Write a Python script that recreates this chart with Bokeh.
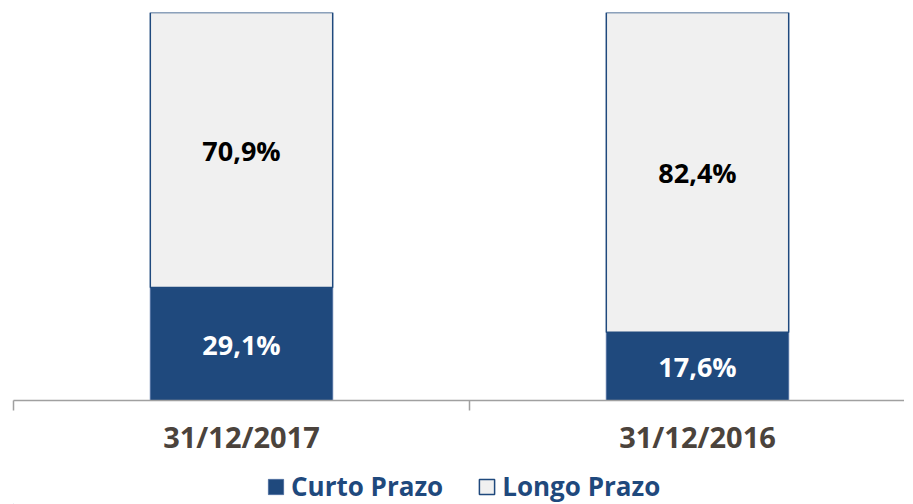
from bokeh.plotting import figure
from bokeh.layouts import column
from bokeh.models import (Range1d, FixedTicker, ColumnDataSource, Legend, LegendItem,
                          LinearAxis)
from bokeh.core.properties import value
from bokeh.embed import file_html
from bokeh.resources import INLINE

categories = ["31/12/2017", "31/12/2016"]
curto_prazo = [29.1, 17.6]
longo_prazo = [70.9, 82.4]
series_names = ["Curto Prazo", "Longo Prazo"]

NAVY = "#1F497D"
LIGHT = "#F0F0F0"
FONT = "Open Sans"

xs = [i + 0.5 for i in range(len(categories))]
tops1 = curto_prazo
bottoms2 = curto_prazo
tops2 = [a + b for a, b in zip(curto_prazo, longo_prazo)]

src = ColumnDataSource(dict(
    x=xs, top1=tops1, top2=tops2, bottom2=bottoms2,
    mid1=[t / 2 for t in tops1],
    mid2=[(b + t) / 2 for b, t in zip(bottoms2, tops2)],
    lab1=[f"{v:.1f}%".replace(".", ",") for v in curto_prazo],
    lab2=[f"{v:.1f}%".replace(".", ",") for v in longo_prazo],
))

p = figure(frame_width=891, frame_height=388, output_backend="svg", toolbar_location=None,
           x_range=Range1d(0, 891 / 456), y_range=Range1d(0, 100),
           min_border_left=13, min_border_right=0, min_border_top=12, min_border_bottom=68,
           x_axis_location=None, y_axis_location=None)
p.outline_line_color = None
p.grid.visible = False
p.background_fill_color = "white"
p.border_fill_color = "white"

bar1_style = dict(fill_color=NAVY, line_color="#4F6F9F", line_width=1)
bar2_style = dict(fill_color=LIGHT, line_color=NAVY, line_width=1.5)

p.vbar(x="x", top="top1", bottom=0, width=0.4, source=src, **bar1_style)
p.vbar(x="x", top="top2", bottom="bottom2", width=0.4, source=src, **bar2_style)

p.text(x="x", y="mid1", text="lab1", source=src, text_color="white",
       text_font=value(FONT), text_font_style="bold", text_font_size="27px",
       text_align="center", text_baseline="middle")
p.text(x="x", y="mid2", text="lab2", source=src, text_color="black",
       text_font=value(FONT), text_font_style="bold", text_font_size="27px",
       text_align="center", text_baseline="middle")

ax = LinearAxis(ticker=FixedTicker(ticks=xs, minor_ticks=[0, 1, 2]),
                major_label_overrides={x: c for x, c in zip(xs, categories)})
ax.axis_line_color = "#A0A0A0"
ax.axis_line_width = 1.5
ax.major_tick_line_color = None
ax.minor_tick_line_color = "#A0A0A0"
ax.minor_tick_line_width = 1.5
ax.minor_tick_out = 10
ax.minor_tick_in = 0
ax.major_tick_out = 0
ax.major_tick_in = 0
ax.major_label_standoff = 6
ax.major_label_text_font = FONT
ax.major_label_text_font_style = "bold"
ax.major_label_text_font_size = "29px"
ax.major_label_text_color = "#4B433C"
p.add_layout(ax, "below")

# legend strip (legend swatches come from proxy bars placed far outside the canvas)
lg = figure(frame_width=891, frame_height=36, output_backend="svg", toolbar_location=None,
            x_range=Range1d(0, 1), y_range=Range1d(0, 1),
            min_border_left=13, min_border_right=0, min_border_top=0, min_border_bottom=0,
            x_axis_location=None, y_axis_location=None)
lg.outline_line_color = None
lg.grid.visible = False
proxy = ColumnDataSource(dict(x=[-50], top=[-40], bottom=[-41]))
lr1 = lg.vbar(x="x", top="top", bottom="bottom", width=0.01, source=proxy, **bar1_style)
lr2 = lg.vbar(x="x", top="top", bottom="bottom", width=0.01, source=proxy, **bar2_style)

legend = Legend(items=[LegendItem(label=series_names[0], renderers=[lr1]),
                       LegendItem(label=series_names[1], renderers=[lr2])],
                orientation="horizontal", location=(253, 0))
legend.label_text_font = FONT
legend.label_text_font_style = "bold"
legend.label_text_font_size = "26px"
legend.label_text_color = NAVY
legend.glyph_width = 19
legend.glyph_height = 19
legend.spacing = 34
legend.label_standoff = 6
legend.label_height = 19
legend.padding = 0
legend.margin = 0
legend.border_line_color = None
legend.background_fill_alpha = 0
lg.add_layout(legend, "center")

layout = column(p, lg, spacing=0)
open("out.html", "w").write(file_html(layout, INLINE))
